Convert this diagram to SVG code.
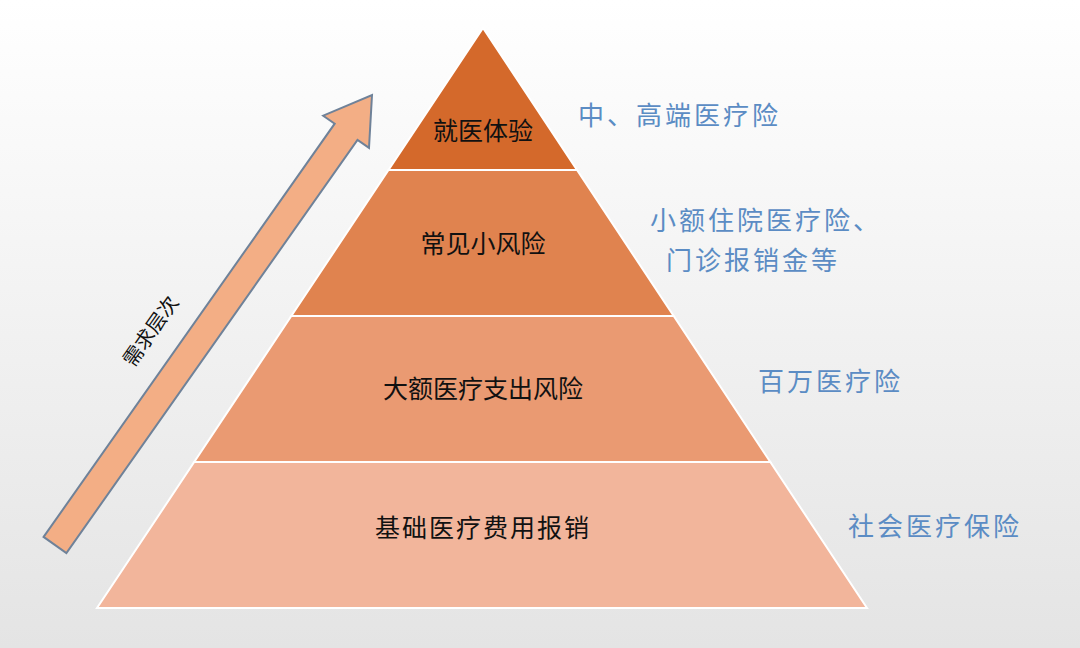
<svg xmlns="http://www.w3.org/2000/svg" width="1080" height="648" viewBox="0 0 1080 648">
<defs>
<linearGradient id="bg" x1="0" y1="0" x2="0" y2="1"><stop offset="0" stop-color="#ffffff"/><stop offset="1" stop-color="#e4e4e4"/></linearGradient>
<style>
.t{font-family:"Noto Sans CJK SC",sans-serif;font-size:25px;fill:#111;text-anchor:middle}
.l{font-family:"Noto Sans CJK SC",sans-serif;font-size:26px;fill:#5B8CC4;letter-spacing:3px}
.s{stroke:#fff;stroke-width:2}
</style>
</defs>
<rect width="1080" height="648" fill="url(#bg)"/>
<g id="arrow">
<polygon points="43.6,536.9 334.7,123.7 323.2,115.7 372,95 369,147.9 357.5,139.9 66.4,553.1" fill="#F3AE85" stroke="#6F8299" stroke-width="2"/>
<text x="0" y="0" transform="translate(152,332) rotate(-55)" font-family="Noto Sans CJK SC,sans-serif" font-size="20" fill="#111" text-anchor="middle" dominant-baseline="middle">需求层次</text>
</g>
<g id="layer1"><polygon class="s" points="483,28 577,170 388.5,170" fill="#D4692B"/><text class="t" x="483" y="140">就医体验</text></g>
<g id="layer2"><polygon class="s" points="388.5,170 577,170 673.7,316 291.3,316" fill="#E0834F"/><text class="t" x="483" y="253">常见小风险</text></g>
<g id="layer3"><polygon class="s" points="291.3,316 673.7,316 770.3,462 194.2,462" fill="#EA9A72"/><text class="t" x="483" y="398">大额医疗支出风险</text></g>
<g id="layer4"><polygon class="s" points="194.2,462 770.3,462 867,608 97,608" fill="#F2B59B"/><text class="t" x="483" y="537" letter-spacing="2">基础医疗费用报销</text></g>
<g id="labels">
<text class="l" x="578" y="125">中、高端医疗险</text>
<text class="l" x="650" y="230">小额住院医疗险、</text>
<text class="l" x="666" y="270">门诊报销金等</text>
<text class="l" x="758" y="391">百万医疗险</text>
<text class="l" x="848" y="536">社会医疗保险</text>
</g>
</svg>
